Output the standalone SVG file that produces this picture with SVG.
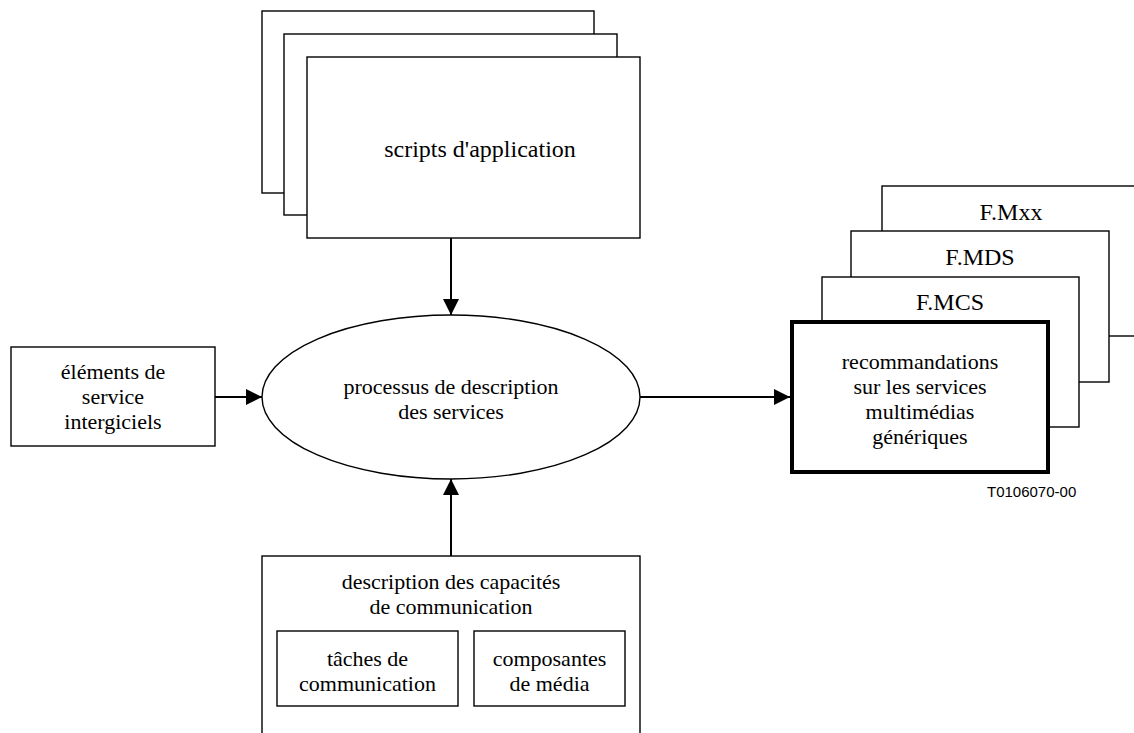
<svg xmlns="http://www.w3.org/2000/svg" width="1134" height="733" viewBox="0 0 1134 733">
<style>
  .box { fill: #fff; stroke: #000; stroke-width: 1.4; }
  .thick { fill: #fff; stroke: #000; stroke-width: 4; }
  .t { font-family: "Liberation Serif", "Times New Roman", "DejaVu Serif", serif; font-size: 24px; fill: #000; text-anchor: middle; }
  .m { font-size: 22px; }
  .code { font-family: "Liberation Sans", Arial, sans-serif; font-size: 15px; fill: #000; }
  .conn { stroke: #000; stroke-width: 2; fill: none; marker-end: url(#arr); }
</style>
<defs>
  <marker id="arr" markerUnits="userSpaceOnUse" markerWidth="16" markerHeight="16" viewBox="0 0 16 16" refX="16" refY="8" orient="auto">
    <path d="M0,0 L16,8 L0,16 Z" fill="#000"/>
  </marker>
</defs>
<rect width="1134" height="733" fill="#fff"/>

<g id="scripts">
  <rect class="box" x="262" y="11" width="332" height="182"/>
  <rect class="box" x="284" y="34" width="333" height="181"/>
  <rect class="box" x="307" y="57" width="333" height="181"/>
  <text class="t" x="480" y="157">scripts d'application</text>
</g>

<g id="elements">
  <rect class="box" x="11" y="347" width="204" height="99"/>
  <text class="t m" x="113" y="378.5">éléments de<tspan x="113" dy="25">service</tspan><tspan x="113" dy="25">intergiciels</tspan></text>
</g>

<g id="processus">
  <ellipse class="box" cx="451" cy="397" rx="189" ry="82"/>
  <text class="t m" x="451" y="393.5">processus de description<tspan x="451" dy="25">des services</tspan></text>
</g>

<g id="capacites">
  <rect class="box" x="262" y="556" width="378" height="200"/>
  <text class="t m" x="451" y="588.5">description des capacités<tspan x="451" dy="25">de communication</tspan></text>
  <g id="taches">
    <rect class="box" x="277" y="631" width="181" height="75"/>
    <text class="t m" x="367.5" y="665.5">tâches de<tspan x="367.5" dy="25">communication</tspan></text>
  </g>
  <g id="composantes">
    <rect class="box" x="474" y="631" width="151" height="75"/>
    <text class="t m" x="549.5" y="665.5">composantes<tspan x="549.5" dy="25">de média</tspan></text>
  </g>
</g>

<g id="recommandations">
  <rect class="box" x="882" y="186" width="270" height="150"/>
  <text class="t" x="1011" y="220">F.Mxx</text>
  <rect class="box" x="851" y="231" width="258" height="151"/>
  <text class="t" x="980" y="265">F.MDS</text>
  <rect class="box" x="822" y="277" width="257" height="150"/>
  <text class="t" x="950" y="310">F.MCS</text>
  <rect class="thick" x="792" y="322" width="256" height="150"/>
  <text class="t m" x="920" y="368.5">recommandations<tspan x="920" dy="25">sur les services</tspan><tspan x="920" dy="25">multimédias</tspan><tspan x="920" dy="25">génériques</tspan></text>
</g>

<text class="code" x="987" y="497">T0106070-00</text>

<g id="connectors">
  <line class="conn" x1="451" y1="238" x2="451" y2="315"/>
  <line class="conn" x1="215" y1="397" x2="262" y2="397"/>
  <line class="conn" x1="640" y1="397" x2="790" y2="397"/>
  <line class="conn" x1="451" y1="556" x2="451" y2="479"/>
</g>
</svg>
